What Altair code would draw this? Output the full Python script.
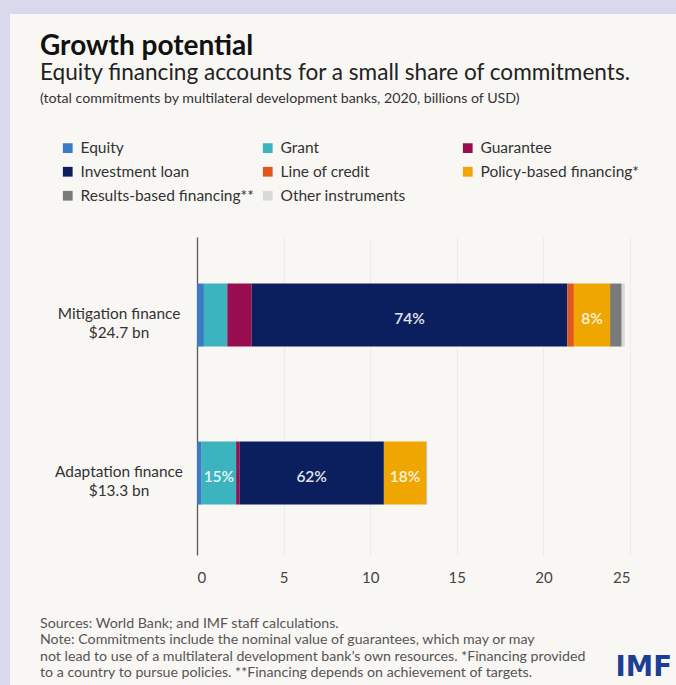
import altair as alt
import pandas as pd

# ---- data ----
categories = ["Mitigation finance", "Adaptation finance"]
category_labels = ["Mitigation finance\n$24.7 bn", "Adaptation finance\n$13.3 bn"]
instruments = ["Equity", "Grant", "Guarantee", "Investment loan", "Line of credit",
               "Policy-based financing*", "Results-based financing**", "Other instruments"]
colors = ["#3b7bc4", "#3cb4c0", "#980d4f", "#0b1f5e", "#e0571b", "#f0a600", "#7a7a7a", "#d9d9d9"]
mitigation_values = [0.40, 1.35, 1.41, 18.22, 0.38, 2.09, 0.67, 0.18]
adaptation_values = [0.27, 1.99, 0.19, 8.34, 0.00, 2.45, 0.02, 0.04]
mitigation_labels = ["", "", "", "74%", "", "8%", "", ""]
adaptation_labels = ["", "15%", "", "62%", "", "18%", "", ""]
x_ticks = [0, 5, 10, 15, 20, 25]

title_text = "Growth potential"
subtitle_text = "Equity financing accounts for a small share of commitments."
subsubtitle_text = "(total commitments by multilateral development banks, 2020, billions of USD)"
footer_lines = [
    "Sources: World Bank; and IMF staff calculations.",
    "Note: Commitments include the nominal value of guarantees, which may or may",
    "not lead to use of a multilateral development bank\u2019s own resources. *Financing provided",
    "to a country to pursue policies. **Financing depends on achievement of targets.",
]
logo_text = "IMF"

FONT = "Lato"
CARD = "#f8f7f4"
LAVENDER = "#d9d8ec"

rows = []
for cat, vals, labs in [(categories[0], mitigation_values, mitigation_labels),
                        (categories[1], adaptation_values, adaptation_labels)]:
    for i, (inst, v, lab) in enumerate(zip(instruments, vals, labs)):
        rows.append({"category": cat, "instrument": inst, "order": i, "value": v, "label": lab})
df = pd.DataFrame(rows)
cat_df = pd.DataFrame({"category": categories, "text": category_labels})

# legend is filled column by column: reorder so it reads row by row (3 columns)
ncol = 3
legend_order = [k for c in range(ncol) for k in range(c, len(instruments), ncol)]
legend_domain = [instruments[k] for k in legend_order]
legend_range = [colors[k] for k in legend_order]

W, H = 433, 318
PL, PT = 197, 237

y_scale = alt.Scale(paddingInner=0.6, paddingOuter=0.306, align=0.48)
y_enc = alt.Y("category:N", sort=categories, title=None, scale=y_scale,
              axis=alt.Axis(labels=False, ticks=False, grid=False, domainColor="#5a5a5a",
                            domainWidth=1.3))

bars = alt.Chart(df).mark_bar(size=63).encode(
    y=y_enc,
    x=alt.X("value:Q", stack="zero", title=None,
            scale=alt.Scale(domain=[0, 25], nice=False),
            axis=alt.Axis(values=x_ticks, grid=True, gridColor="#ebebeb", domain=False,
                          ticks=False, labelFontSize=15, labelColor="#444", labelFont=FONT,
                          labelPadding=15)),
    color=alt.Color("instrument:N", scale=alt.Scale(domain=legend_domain, range=legend_range),
                    legend=alt.Legend(title=None, orient="none", legendX=-137, legendY=-97,
                                      columns=ncol, gridAlign="all", columnPadding=6,
                                      rowPadding=7, symbolType="square", symbolSize=95,
                                      symbolStrokeWidth=0, labelFontSize=15.5, labelFont=FONT,
                                      labelColor="#333", labelOffset=5, labelLimit=400)),
    order=alt.Order("order:Q"),
)

seg_labels = alt.Chart(df).transform_stack(
    stack="value", groupby=["category"], sort=[alt.SortField("order")], as_=["x0", "x1"]
).transform_calculate(mid="(datum.x0 + datum.x1) / 2").transform_filter(
    "datum.label != ''"
).mark_text(font=FONT, fontSize=15.5, fontWeight=600, color="#ffffff", opacity=0.88, dy=4).encode(
    x=alt.X("mid:Q"), y=alt.Y("category:N", sort=categories, scale=y_scale), text="label:N"
)

cat_text = alt.Chart(cat_df).mark_text(font=FONT, fontSize=15.4, color="#333", align="center",
                                       lineBreak="\n", lineHeight=19, dy=-1).encode(
    y=alt.Y("category:N", sort=categories, scale=y_scale), x=alt.value(-78), text="text:N"
)

one = pd.DataFrame({"a": [0]})

def txt(s, x, y, align="left", font=FONT, **kw):
    return alt.Chart(one).mark_text(text=s, font=font, align=align, baseline="middle", **kw).encode(
        x=alt.value(x), y=alt.value(y))

strip_top = alt.Chart(one).mark_rect(color=LAVENDER).encode(
    x=alt.value(-PL), x2=alt.value(676 - PL), y=alt.value(-PT), y2=alt.value(14 - PT))
strip_left = alt.Chart(one).mark_rect(color=LAVENDER).encode(
    x=alt.value(-PL), x2=alt.value(10 - PL), y=alt.value(-PT), y2=alt.value(685 - PT))

texts = [
    txt(title_text, 40 - PL, 47 - PT, fontSize=28, fontWeight="bold", color="#111"),
    txt(subtitle_text, 40 - PL, 73 - PT, fontSize=22.6, color="#222"),
    txt(subsubtitle_text, 40 - PL, 99 - PT, fontSize=14.2, color="#333"),
]
for line, yy in zip(footer_lines, [624, 640, 657, 673]):
    texts.append(txt(line, 40 - PL, yy - PT, fontSize=14.2, color="#555"))
texts.append(txt(logo_text, 672 - PL, 668 - PT, align="right", font="DejaVu Sans",
                 fontSize=27.5, fontWeight="bold", color="#1c3f94"))

chart = alt.layer(strip_top, strip_left, bars, seg_labels, cat_text, *texts).properties(
    width=W, height=H,
    autosize=alt.AutoSizeParams(type="none"),
    padding={"left": PL, "top": PT, "right": 676 - PL - W, "bottom": 685 - PT - H},
    background=CARD,
).configure_view(strokeWidth=0)

chart.save("out.html", embed_options={"renderer": "svg", "actions": False})
